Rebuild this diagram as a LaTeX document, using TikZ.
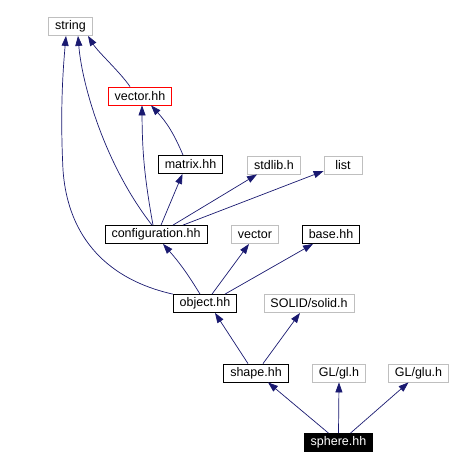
\documentclass[tikz,border=0pt]{standalone}
\usepackage{fontspec}
\setmainfont{Liberation Sans}
\usetikzlibrary{arrows.meta}
\definecolor{edgeblue}{HTML}{191970}
\definecolor{sysgray}{HTML}{BFBFBF}
\definecolor{red}{HTML}{FF0000}

\begin{document}
\begin{tikzpicture}[x=1pt,y=-1pt,>={Triangle[length=10pt,width=7pt]},font=\fontsize{12.5}{14}\selectfont]
		\tikzstyle{every node}=[draw,inner xsep=6.5pt,inner ysep=0pt,minimum height=18pt,minimum width=38pt,line width=0.8pt]
		\tikzstyle{sys}=[draw=sysgray]
		\tikzstyle{every edge}=[draw,color=edgeblue,line width=0.7pt]
		\tikzstyle{dep}=[->,draw=edgeblue,line width=0.7pt]
		\useasboundingbox (0,0) rectangle (453,470);

		\node (str) at (70.5,26.5) [sys] {string};
		\node (vec) at (140,96) [draw=red] {vector.hh};
		\node (mat) at (190.5,164.5) {matrix.hh};
		\node (std) at (274,165) [sys] {stdlib.h};
		\node (lst) at (343,165) [sys] {list};
		\node (cfg) at (156,234.5) {configuration.hh};
		\node (vct) at (255,234.5) [sys] {vector};
		\node (base) at (331,234.5) {base.hh};
		\node (obj) at (205,303.5) {object.hh};
		\node (solid) at (309,303.5) [sys] {SOLID/solid.h};
		\node (shp) at (256,373) {shape.hh};
		\node (gl) at (339,373) [sys] {GL/gl.h};
		\node (glu) at (418.5,373) [sys] {GL/glu.h};
		\node (sph) at (338.5,442.5) [fill=black,text=white] {sphere.hh};

		% includes of string
		\draw [dep] ([xshift=-10pt]vec.north) .. controls (120,72) and (98,52) .. ([xshift=17.5pt]str.south);
		\draw [dep] ([xshift=-4pt]cfg.north) .. controls (105,165) and (82,85) .. ([xshift=7.5pt]str.south);
		\draw [dep] (obj.north west) .. controls (110,280) and (68,240) .. (63,170) .. controls (60,110) and (63,70) .. ([xshift=-4.5pt]str.south);

		\path [->] ([xshift=-3pt]cfg.north) edge[bend left=5] ([xshift=2pt]vec.south);
		\path [->] ([xshift=-7.5pt]mat.north) edge[bend right=10] ([xshift=11pt]vec.south);
		\path [->] ([xshift=5pt]cfg.north) edge ([xshift=-8pt]mat.south);
		\path [->] ([xshift=17pt]cfg.north) edge ([xshift=-17pt]std.south);
		\path [->] ([xshift=27pt]cfg.north) edge ([yshift=-6pt]lst.west);

		\path [->] ([xshift=-5pt]obj.north) edge[bend right=5] ([xshift=7pt]cfg.south);
		\path [->] ([xshift=7pt]obj.north) edge ([xshift=-6pt]vct.south);
		\path [->] ([xshift=20pt]obj.north) edge ([xshift=-18pt]base.south);

		\path [->] ([xshift=-8pt]shp.north) edge ([xshift=10pt]obj.south);
		\path [->] ([xshift=7pt]shp.north) edge ([xshift=-9pt]solid.south);

		\path [->] ([xshift=-10pt]sph.north) edge ([xshift=12pt]shp.south);
		\path [->] (sph.north) edge (gl.south);
		\path [->] ([xshift=12pt]sph.north) edge ([xshift=-10pt]glu.south);
	\end{tikzpicture}
\end{document}
